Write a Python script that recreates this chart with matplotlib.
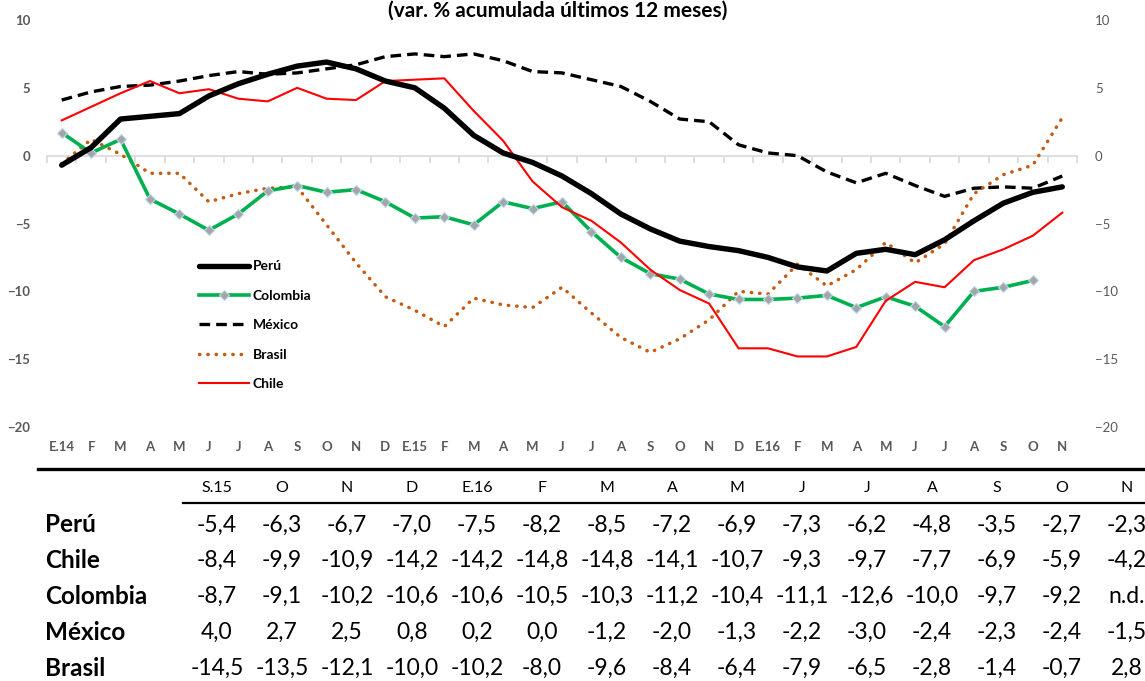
import matplotlib
matplotlib.use("Agg")
import matplotlib.pyplot as plt
from matplotlib.lines import Line2D
import numpy as np

plt.rcParams['font.family'] = ['Lato', 'DejaVu Sans']

W, H = 1145, 681

meses = ['E.14', 'F', 'M', 'A', 'M', 'J', 'J', 'A', 'S', 'O', 'N', 'D',
         'E.15', 'F', 'M', 'A', 'M', 'J', 'J', 'A', 'S', 'O', 'N', 'D',
         'E.16', 'F', 'M', 'A', 'M', 'J', 'J', 'A', 'S', 'O', 'N']

peru = [-0.7, 0.6, 2.7, 2.9, 3.1, 4.4, 5.3, 6.0, 6.6, 6.9, 6.4, 5.5,
        5.0, 3.5, 1.5, 0.2, -0.5, -1.5, -2.8, -4.3,
        -5.4, -6.3, -6.7, -7.0, -7.5, -8.2, -8.5, -7.2, -6.9, -7.3, -6.2, -4.8, -3.5, -2.7, -2.3]
chile = [2.6, 3.6, 4.6, 5.5, 4.6, 4.9, 4.2, 4.0, 5.0, 4.2, 4.1, 5.5,
         5.6, 5.7, 3.3, 1.1, -1.9, -3.8, -4.8, -6.4,
         -8.4, -9.9, -10.9, -14.2, -14.2, -14.8, -14.8, -14.1, -10.7, -9.3, -9.7, -7.7, -6.9, -5.9, -4.2]
colombia = [1.7, 0.2, 1.2, -3.2, -4.3, -5.5, -4.3, -2.6, -2.2, -2.7, -2.5, -3.4,
            -4.6, -4.5, -5.1, -3.4, -3.9, -3.4, -5.6, -7.5,
            -8.7, -9.1, -10.2, -10.6, -10.6, -10.5, -10.3, -11.2, -10.4, -11.1, -12.6, -10.0, -9.7, -9.2, np.nan]
mexico = [4.1, 4.7, 5.1, 5.2, 5.5, 5.9, 6.2, 6.0, 6.1, 6.4, 6.7, 7.3,
          7.5, 7.3, 7.5, 7.0, 6.2, 6.1, 5.6, 5.1,
          4.0, 2.7, 2.5, 0.8, 0.2, 0.0, -1.2, -2.0, -1.3, -2.2, -3.0, -2.4, -2.3, -2.4, -1.5]
brasil = [-0.6, 1.2, 0.1, -1.3, -1.3, -3.4, -2.8, -2.4, -2.3, -5.1, -7.9, -10.4,
          -11.4, -12.6, -10.5, -11.0, -11.2, -9.7, -11.6, -13.4,
          -14.5, -13.5, -12.1, -10.0, -10.2, -8.0, -9.6, -8.4, -6.4, -7.9, -6.5, -2.8, -1.4, -0.7, 2.8]

meses_tabla = ['S.15', 'O', 'N', 'D', 'E.16', 'F', 'M', 'A', 'M', 'J', 'J', 'A', 'S', 'O', 'N']
filas_tabla = [('Perú', peru), ('Chile', chile), ('Colombia', colombia),
               ('México', mexico), ('Brasil', brasil)]

titulo = '(var. % acumulada últimos 12 meses)'
gris = '#595959'

fig = plt.figure(figsize=(W / 100, H / 100), dpi=100)
ax = fig.add_axes([47 / W, 1 - 427 / H, 1030 / W, 407 / H])

x = np.arange(len(meses))
ax.plot(x, peru, color='black', lw=3.9, label='Perú', solid_capstyle='round', zorder=5)
ax.plot(x, colombia, color='#00B050', lw=2.6, marker='D', ms=5.5, mfc='#A5A5A5',
        mec='#BDD7EE', mew=0.8, label='Colombia', zorder=4)
ax.plot(x, mexico, color='black', lw=2.4, ls=(0, (3.2, 1.8)), label='México', zorder=3)
ax.plot(x, brasil, color='#C55A11', lw=2.5, ls=(0, (0.1, 2.3)), dash_capstyle='round',
        label='Brasil', zorder=3)
ax.plot(x, chile, color='#FF0000', lw=1.5, label='Chile', zorder=4)

ax.set_xlim(-0.5, len(meses) - 0.5)
ax.set_ylim(-20, 10)
ax.set_yticks(np.arange(-20, 11, 5))
ax.tick_params(axis='y', length=0, pad=12, labelcolor=gris, labelsize=9.5)
for t in ax.get_yticklabels():
    t.set_fontweight('bold')

for s in ['left', 'right', 'top']:
    ax.spines[s].set_visible(False)
ax.spines['bottom'].set_position(('data', 0))
ax.spines['bottom'].set_color('#D9D9D9')
ax.spines['bottom'].set_linewidth(1.2)
ax.set_xticks(x)
ax.set_xticks(np.arange(-0.5, len(meses), 1), minor=True)
ax.tick_params(axis='x', which='major', length=0, labelbottom=False)
ax.tick_params(axis='x', which='minor', length=5, width=1.2, color='#D9D9D9', direction='out')

sec = ax.secondary_xaxis(0)
sec.set_xticks(x)
sec.set_xticklabels(meses, fontsize=9.5, fontweight='bold', color=gris)
sec.tick_params(length=0, pad=10)
sec.spines['bottom'].set_visible(False)

ax2 = ax.twinx()
ax2.set_ylim(-20, 10)
ax2.set_yticks(np.arange(-20, 11, 5))
ax2.tick_params(axis='y', length=0, pad=13, labelcolor=gris, labelsize=9.5)
for s in ax2.spines.values():
    s.set_visible(False)

ax.legend(loc='upper left', bbox_to_anchor=(0.135, 0.44), frameon=False,
          prop={'weight': 'bold', 'size': 10}, handlelength=3.6, handletextpad=0.3,
          labelspacing=1.25)

fig.text(558 / W, 1 - 17 / H, titulo, ha='center', va='baseline',
         fontsize=15, fontweight='bold')

# tabla
fig.add_artist(Line2D([38 / W, 1], [1 - 469 / H] * 2, color='black', lw=2.4))
fig.add_artist(Line2D([183 / W, 1], [1 - 503 / H] * 2, color='black', lw=1.6))
col_x = [(217 + 65 * i) / W for i in range(len(meses_tabla))]
for cx, m in zip(col_x, meses_tabla):
    fig.text(cx, 1 - 488 / H, m, ha='center', va='center', fontsize=11.5)
n = len(meses_tabla)
for j, (nombre, serie) in enumerate(filas_tabla):
    y = 1 - (525 + 35.8 * j) / H
    fig.text(45 / W, y, nombre, ha='left', va='center', fontsize=17.5, fontweight='bold')
    for cx, v in zip(col_x, serie[-n:]):
        txt = 'n.d.' if np.isnan(v) else f'{v:.1f}'.replace('.', ',')
        fig.text(cx, y, txt, ha='center', va='center', fontsize=16.5)

fig.savefig('out.png', dpi=100)
